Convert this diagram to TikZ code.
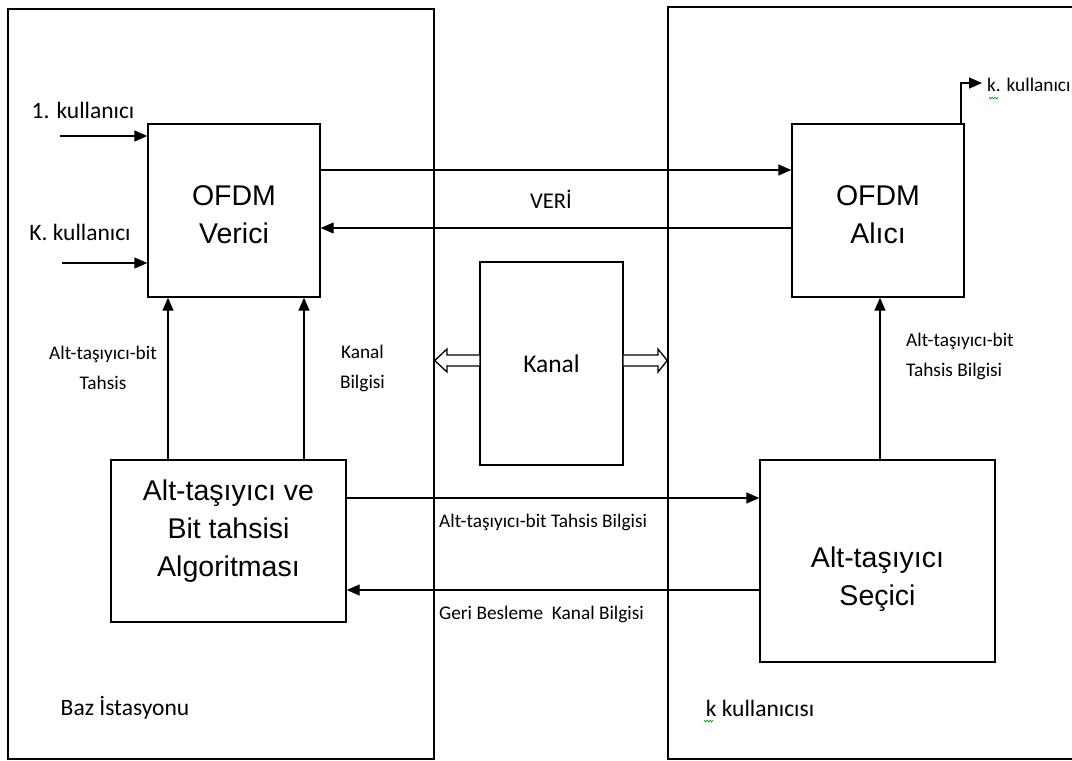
\documentclass[tikz,border=0pt]{standalone}
\usepackage{fontspec}
\setmainfont{Carlito}
\newfontfamily\arialf{Liberation Sans}
\usetikzlibrary{arrows.meta,calc}
\begin{document}
\begin{tikzpicture}[x=1pt,y=-1pt,
  outer/.style={draw,line width=1.5pt,inner sep=0pt},
  blk/.style={draw,line width=1.4pt,inner sep=0pt,align=center,font=\arialf\fontsize{28.5}{38}\selectfont},
  txt/.style={inner sep=0pt,align=center,font=\arialf\fontsize{28.5}{38}\selectfont},
  arr/.style={line width=1.4pt,-{Triangle[length=13pt,width=11pt]}},
  lbl/.style={inner sep=0pt,font=\fontsize{19.3}{30}\selectfont},
  big/.style={inner sep=0pt,font=\fontsize{23.5}{28}\selectfont},
  hollow/.style={draw,line width=1.3pt,fill=white,line join=miter},
  squig/.style={draw=green!60!black,line width=0.6pt}]
\useasboundingbox (0,0) rectangle (1072,761);
\fill[white] (0,0) rectangle (1072,761);
% outer boxes
\node[outer,minimum width=426pt,minimum height=750pt] (bs) at (221,384) {};
\node[outer,minimum width=412pt,minimum height=752pt] (ku) at (874,383) {};
% blocks
\node[blk,minimum width=172pt,minimum height=173pt] (ver) at (234,210.5) {};
\node[blk,minimum width=172pt,minimum height=173pt] (alc) at (878,210.5) {};
\node[blk,minimum width=143pt,minimum height=203pt,font=\fontsize{25.5}{30}\selectfont] (kan) at (551.5,363.5) {Kanal};
\node[blk,minimum width=235pt,minimum height=162pt] (alg) at (228.5,541) {};
\node[blk,minimum width=235pt,minimum height=202pt] (sec) at (877.5,561) {};
\node[txt] (vert) at ([yshift=-4pt]ver.center) {OFDM\\Verici};
\node[txt] (alct) at ([yshift=-4pt]alc.center) {OFDM\\Alıcı};
\node[txt] (algt) at ([yshift=10pt]alg.center) {Alt-taşıyıcı ve\\Bit tahsisi\\Algoritması};
\node[txt] (sect) at ([yshift=-18pt]sec.center) {Alt-taşıyıcı\\Seçici};
% user inputs
\coordinate (u1) at (60,136);
\coordinate (uk) at (62,263);
\draw[arr] (u1) -- (u1 -| ver.west);
\draw[arr] (uk) -- (uk -| ver.west);
\node[big] (l1) at (83,110) {1. kullanıcı};
\node[big] (lk) at (80,232) {K. kullanıcı};
% data arrows
\draw[arr] ([yshift=40.5pt]ver.east) -- ([yshift=40.5pt]alc.west);
\draw[arr] ([yshift=-17.5pt]alc.west) -- ([yshift=-17.5pt]ver.east);
\node[inner sep=0pt,font=\fontsize{22.5}{26}\selectfont] (veri) at (551,199) {VERİ};
% vertical arrows
\draw[arr] ([xshift=-60.5pt]alg.north) -- ([xshift=-60.5pt]alg.north |- ver.south);
\draw[arr] ([xshift=75.5pt]alg.north) -- ([xshift=75.5pt]alg.north |- ver.south);
\draw[arr] ([xshift=2.5pt]sec.north) -- ([xshift=2.5pt]sec.north |- alc.south);
\node[lbl,align=center] (lt1) at (103,368) {Alt-taşıyıcı-bit\\Tahsis};
\node[lbl,align=center] (lt2) at (362.5,368) {Kanal\\Bilgisi};
\node[lbl,align=left,anchor=west] (lt3) at (906,356) {Alt-taşıyıcı-bit\\Tahsis Bilgisi};
% horizontal bottom arrows
\draw[arr] ([yshift=43pt]alg.east) -- ([yshift=43pt]alg.east -| sec.west);
\draw[arr] ([yshift=-49pt]alg.east -| sec.west) -- ([yshift=-49pt]alg.east);
\node[lbl,anchor=west] (lb1) at (439,522) {Alt-taşıyıcı-bit Tahsis Bilgisi};
\node[lbl,anchor=west] (lb2) at (439,614) {Geri Besleme\ \ Kanal Bilgisi};
% channel hollow arrows
\draw[hollow] (kan.west |- 0,355) -- (447,355) -- (447,349) -- (bs.east |- 0,360.5) -- (447,372) -- (447,366) -- (kan.west |- 0,366) ;
\draw[hollow] (kan.east |- 0,355) -- (658,355) -- (658,349) -- (ku.west |- 0,360.5) -- (658,372) -- (658,366) -- (kan.east |- 0,366) ;
% output
\coordinate (ko) at (961,83);
\draw[arr] (alc.north -| ko) -- (ko) -- ++(21,0);
\node[lbl,anchor=west] (lko) at (987,85) {k. kullanıcı};
\draw[squig] (989,97) -- (990.5,99) -- (992,97) -- (993.5,99) -- (995,97) -- (996.5,99) -- (998,97);
% footers
\node[big] (bz) at (125,708) {Baz İstasyonu};
\node[big] (kk) at (760,708) {k kullanıcısı};
\draw[squig] (704,720) -- (705.5,722) -- (707,720) -- (708.5,722) -- (710,720) -- (711.5,722) -- (713,720);
\end{tikzpicture}
\end{document}
